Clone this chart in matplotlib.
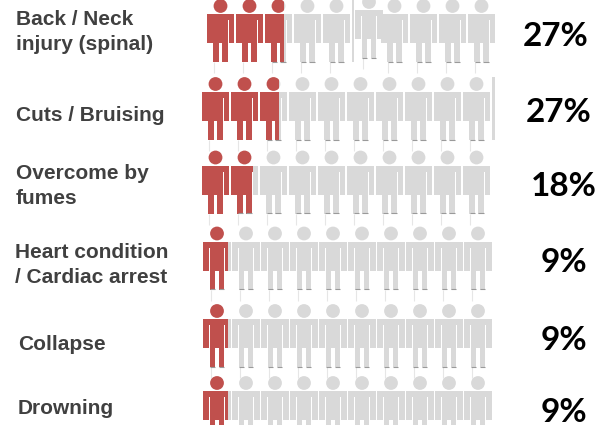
import matplotlib
matplotlib.use('Agg')
import matplotlib.pyplot as plt
from matplotlib.patches import PathPatch, Circle, Rectangle
from matplotlib.path import Path
from matplotlib.transforms import Affine2D

categories = ['Back / Neck\ninjury (spinal)', 'Cuts / Bruising', 'Overcome by\nfumes',
              'Heart condition\n/ Cardiac arrest', 'Collapse', 'Drowning']
percent = [27, 27, 18, 9, 9, 9]
people_per_row = 10

RED = '#C0504D'
GREY = '#D9D9D9'

# layout, in pixels of the 604x425 picture
head_x = [220.5, 215.5, 215.5, 217, 217, 217]
head_y = [6, 84, 157.5, 233.5, 311, 383]
label_x = [15.5, 15.5, 16, 15, 18, 18]
label_y = [32, 115, 186, 265, 345, 409]
value_x = [523, 526, 531, 541, 541, 541]
value_y = [36, 112, 186, 263, 341, 412]
step = 29

body = Path([(-13.8, 8), (13.8, 8), (13.8, 37), (8, 37), (8, 14), (7.4, 14), (7.4, 56),
             (1.7, 56), (1.7, 37), (-1.7, 37), (-1.7, 56), (-7.4, 56), (-7.4, 14), (-8, 14),
             (-8, 37), (-13.8, 37), (-13.8, 8)], closed=True)

fig = plt.figure(figsize=(6.04, 4.25), dpi=100)
ax = fig.add_axes([0, 0, 1, 1])
ax.set_xlim(0, 604)
ax.set_ylim(425, 0)
ax.axis('off')


def draw_person(cx, cy, color, clip=None):
    shift = Affine2D().translate(cx, cy) + ax.transData
    parts = [PathPatch(body, facecolor=color, edgecolor='none', transform=shift),
             Circle((cx, cy), 6.9, facecolor=color, edgecolor='none')]
    for part in parts:
        ax.add_patch(part)
        if clip is not None:
            part.set_clip_path(clip)


for r, value in enumerate(percent):
    filled = value / 100 * people_per_row
    for i in range(people_per_row):
        cx = head_x[r] + i * step
        cy = head_y[r]
        # one odd figure sits out of line in the top row
        if r == 0 and i == 5:
            cx += 3.5
            cy -= 4
        frac = min(max(filled - i, 0), 1)
        left = cx - 13.8
        if frac < 0.9:
            grey_clip = None
            if frac > 0:
                grey_clip = Rectangle((left + 27.6 * frac, cy - 10), 27.6 * (1 - frac), 70,
                                      transform=ax.transData)
            draw_person(cx, cy, GREY, grey_clip)
            ax.hlines([cy + 55.8, cy + 55.8], [cx - 7, cx + 1.7], [cx - 1.7, cx + 7],
                      color='#9a9a9a', lw=0.8)
        if frac > 0:
            red_clip = Rectangle((left, cy - 10), 27.6 * frac, 70, transform=ax.transData)
            draw_person(cx, cy, RED, red_clip)
        ax.vlines(cx - 6.5, cy + 56, cy + 67, color='#e6e6e6', lw=0.8, zorder=0)
    ax.text(label_x[r], label_y[r], categories[r], family='Liberation Sans', weight='bold',
            fontsize=15, color='#404040', ha='left', va='center', linespacing=1.35)
    ax.text(value_x[r], value_y[r], f'{value}%', family='Lato', weight='bold',
            fontsize=24, color='black', ha='left', va='center')

# stray slivers of the cut-up pictogram
ax.add_patch(Rectangle((351.5, 0), 2.5, 62, facecolor=GREY, edgecolor='none'))
ax.add_patch(Rectangle((381, 14), 3, 24, facecolor=GREY, edgecolor='none'))
ax.add_patch(Rectangle((492, 77), 2.5, 63, facecolor=GREY, edgecolor='none'))

fig.savefig('out.png', dpi=100)
plt.close(fig)
